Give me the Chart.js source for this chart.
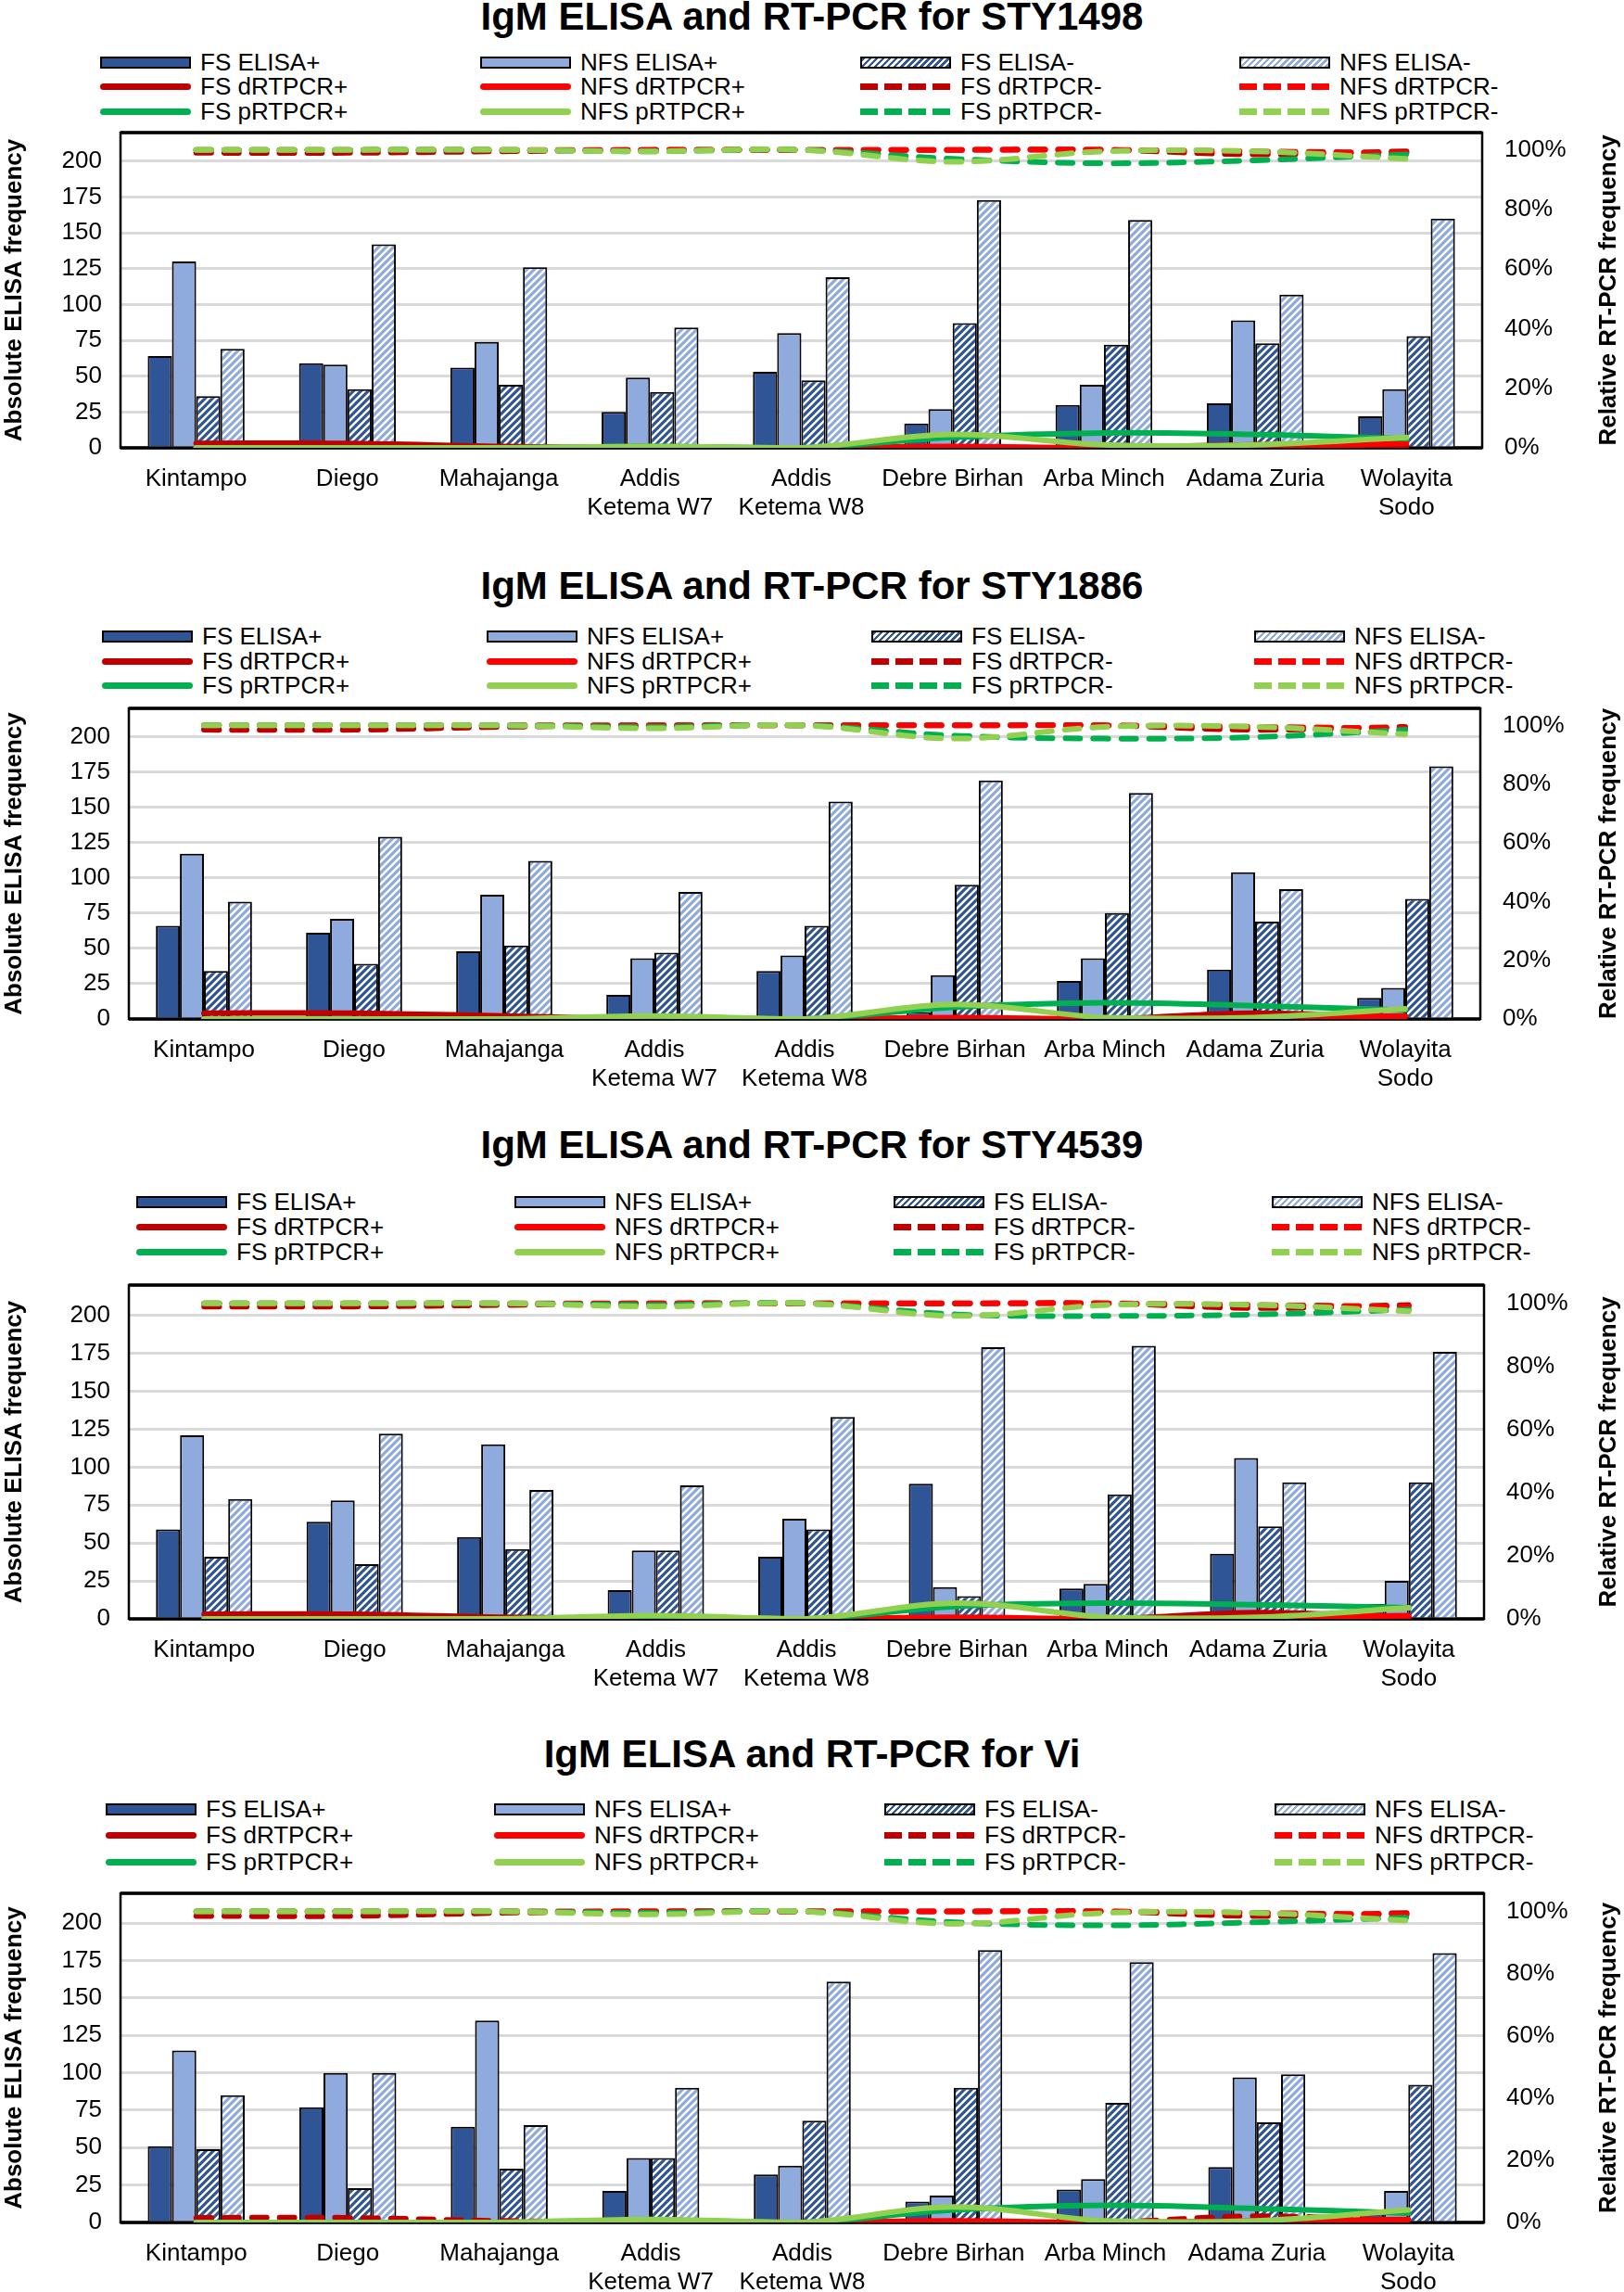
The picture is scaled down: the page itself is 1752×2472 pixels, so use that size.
<!DOCTYPE html>
<html>
<head>
<meta charset="utf-8">
<script src="https://cdn.jsdelivr.net/npm/chart.js@4.4.1/dist/chart.umd.min.js"></script>
<style>
body { margin: 0; width: 1752px; height: 2472px; background: #fff; position: relative; overflow: hidden;
       font-family: 'Liberation Sans', Arial, sans-serif; color: #000; }
.title { position: absolute; left: 0; width: 1752px; text-align: center; font-weight: bold; font-size: 42px; line-height: 46px; }
.leg { position: absolute; font-size: 26px; line-height: 28px; height: 28px; display: flex; align-items: center; white-space: nowrap; }
.sw { width: 98px; margin-right: 10px; box-sizing: border-box; flex: none; }
canvas { position: absolute; left: 0; }
</style>
</head>
<body>
<script>
// Sites on the x axis
const categories = ['Kintampo', 'Diego', 'Mahajanga', ['Addis', 'Ketema W7'], ['Addis', 'Ketema W8'],
    'Debre Birhan', 'Arba Minch', 'Adama Zuria', ['Wolayita', 'Sodo']];

const panelTitles = [
    'IgM ELISA and RT-PCR for STY1498',
    'IgM ELISA and RT-PCR for STY1886',
    'IgM ELISA and RT-PCR for STY4539',
    'IgM ELISA and RT-PCR for Vi'
];

const leftTicks = [0, 25, 50, 75, 100, 125, 150, 175, 200];
const rightTicks = [0, 20, 40, 60, 80, 100];

// ELISA counts, one row per panel (STY1498, STY1886, STY4539, Vi)
const fsElisaPos = [
    [64, 59, 56, 25, 53, 17, 30, 31, 22],
    [66, 61, 48, 17, 34, 5, 27, 35, 15],
    [59, 64, 54, 19, 41, 89, 20, 43, 10],
    [51, 77, 64, 21, 32, 14, 22, 37, 8]
];
const nfsElisaPos = [
    [130, 58, 74, 49, 80, 27, 44, 89, 41],
    [117, 71, 88, 43, 45, 31, 43, 104, 22],
    [121, 78, 115, 45, 66, 21, 23, 106, 25],
    [115, 100, 135, 43, 38, 18, 29, 97, 21]
];
const fsElisaNeg = [
    [36, 41, 44, 39, 47, 87, 72, 73, 78],
    [34, 39, 52, 47, 66, 95, 75, 69, 85],
    [41, 36, 46, 45, 59, 15, 82, 61, 90],
    [49, 23, 36, 43, 68, 90, 80, 67, 92]
];
const nfsElisaNeg = [
    [69, 142, 126, 84, 119, 173, 159, 107, 160],
    [83, 129, 112, 90, 154, 169, 160, 92, 179],
    [79, 122, 85, 88, 133, 179, 180, 90, 176],
    [85, 100, 65, 90, 161, 182, 174, 99, 180]
];

// RT-PCR relative frequencies (%)
const fsDPos = [
    [1.5, 1.5, 0.5, 0, 0, 0, 0, 1, 0.5],
    [2, 2, 1, 0, 0, 0, 0, 2, 0.5],
    [1.5, 1.5, 0.5, 0, 0, 0, 0, 2, 0.5],
    [1.5, 1.5, 0.5, 0, 0, 0, 0, 2, 0.5]
];
const nfsDPos = [
    [0, 0, 0, 0, 0, 0.5, 0, 0.5, 1.5],
    [0, 0, 0, 0, 0, 0.5, 0, 0.5, 1],
    [0, 0, 0, 0, 0, 0.5, 0, 0.5, 1],
    [0, 0, 0, 0, 0, 0.5, 0, 0.5, 1]
];
const fsDNeg = [
    [99, 99, 99.5, 100, 100, 100, 100, 98.5, 99.5],
    [98.5, 98.5, 99.5, 100, 100, 100, 100, 98.5, 99.5],
    [99, 99, 99.5, 100, 100, 100, 100, 98.5, 99.5],
    [98.5, 98.5, 99.5, 100, 100, 100, 100, 98.5, 99.5]
];
const nfsDNeg = [
    [100, 100, 100, 100, 100, 100, 100, 99.5, 99],
    [100, 100, 100, 100, 100, 100, 100, 99.5, 99],
    [100, 100, 100, 100, 100, 100, 100, 99.5, 99],
    [100, 100, 100, 100, 100, 100, 100, 99.5, 99]
];
const fsPPos = [
    [0, 0, 0, 0.5, 0, 3.5, 5, 4.5, 3],
    [0, 0, 0, 0.5, 0, 4, 5.5, 4.5, 3],
    [0, 0, 0, 0.5, 0, 4, 5, 4.5, 3.5],
    [0, 0, 0, 0.5, 0, 4, 5.5, 4.5, 3]
];
const nfsPPos = [
    [0, 0, 0, 0.5, 0, 4.5, 1, 1, 3.5],
    [0, 0, 0, 1, 0, 5, 0.5, 0.5, 3.5],
    [0, 0, 0, 1, 0, 5, 0.5, 0.5, 3.5],
    [0, 0, 0, 1, 0, 5, 0.5, 0.5, 4]
];
const fsPNeg = [
    [100, 100, 100, 99.5, 100, 97, 95.5, 96.5, 98.5],
    [100, 100, 100, 99.5, 100, 96.5, 95.5, 96, 98.5],
    [100, 100, 100, 99.5, 100, 96.5, 96, 96.5, 98],
    [100, 100, 100, 99.5, 100, 96.5, 95.5, 96.5, 98]
];
const nfsPNeg = [
    [100, 100, 100, 99.5, 100, 96, 99.5, 99.5, 97],
    [100, 100, 100, 99, 100, 95.5, 99.5, 99.5, 97],
    [100, 100, 100, 99, 100, 96, 99.5, 99.5, 97.5],
    [100, 100, 100, 99, 100, 96, 99.5, 99.5, 97]
];

// page layout of each panel (px)
const panels = [
    { titleY: 18, legX: [108, 518, 928, 1337], legY: [67, 93, 120], left: 130, right: 1599, top: 143, bottom: 483 },
    { titleY: 632, legX: [110, 525, 940, 1353], legY: [686, 713, 739], left: 139, right: 1597, top: 764, bottom: 1099 },
    { titleY: 1235, legX: [147, 555, 964, 1372], legY: [1296, 1323, 1350], left: 139, right: 1601, top: 1386, bottom: 1746 },
    { titleY: 1892, legX: [114, 533, 954, 1375], legY: [1951, 1979, 2008], left: 130, right: 1601, top: 2042, bottom: 2397, fsDPosDashed: true }
];

const DARK_BLUE = '#2F5597';
const LIGHT_BLUE = '#8FAADC';
const DARK_RED = '#C00000';
const RED = '#FF0000';
const GREEN = '#00B050';
const LIGHT_GREEN = '#92D050';

Chart.defaults.font.family = "'Liberation Sans', Arial, sans-serif";
Chart.defaults.color = '#000';

function hatch(color) {
    const c = document.createElement('canvas');
    c.width = 8; c.height = 8;
    const g = c.getContext('2d');
    g.fillStyle = '#fff';
    g.fillRect(0, 0, 8, 8);
    g.strokeStyle = color;
    g.lineWidth = 3.2;
    g.beginPath();
    g.moveTo(-2, 10); g.lineTo(10, -2);
    g.moveTo(-6, 6); g.lineTo(6, -6);
    g.moveTo(2, 14); g.lineTo(14, 2);
    g.stroke();
    return g.createPattern(c, 'repeat');
}

const plotFrame = {
    id: 'plotFrame',
    beforeDatasetsDraw(chart) {
        const { ctx, chartArea: a } = chart;
        ctx.save();
        ctx.strokeStyle = '#000';
        ctx.lineWidth = 2.5;
        ctx.strokeRect(a.left, a.top, a.right - a.left, a.bottom - a.top);
        ctx.lineWidth = 3.5;
        ctx.beginPath();
        ctx.moveTo(a.left, a.bottom);
        ctx.lineTo(a.right, a.bottom);
        ctx.moveTo(a.left, a.top);
        ctx.lineTo(a.right, a.top);
        ctx.stroke();
        ctx.restore();
    },
    afterDraw(chart) {
        // right axis title reads bottom-to-top like the left one
        const { ctx, chartArea: a, width } = chart;
        ctx.save();
        ctx.translate(width - 16, (a.top + a.bottom) / 2);
        ctx.rotate(-Math.PI / 2);
        ctx.font = "bold 26px 'Liberation Sans', Arial, sans-serif";
        ctx.fillStyle = '#000';
        ctx.textAlign = 'center';
        ctx.textBaseline = 'middle';
        ctx.fillText('Relative RT-PCR frequency', 0, 0);
        ctx.restore();
    }
};

function addLegend(p) {
    const items = [
        ['FS ELISA+', 'bar', DARK_BLUE], ['NFS ELISA+', 'bar', LIGHT_BLUE], ['FS ELISA-', 'hatch', DARK_BLUE], ['NFS ELISA-', 'hatch', LIGHT_BLUE],
        ['FS dRTPCR+', 'line', DARK_RED], ['NFS dRTPCR+', 'line', RED], ['FS dRTPCR-', 'dash', DARK_RED], ['NFS dRTPCR-', 'dash', RED],
        ['FS pRTPCR+', 'line', GREEN], ['NFS pRTPCR+', 'line', LIGHT_GREEN], ['FS pRTPCR-', 'dash', GREEN], ['NFS pRTPCR-', 'dash', LIGHT_GREEN]
    ];
    items.forEach((it, i) => {
        const row = Math.floor(i / 4), col = i % 4;
        const d = document.createElement('div');
        d.className = 'leg';
        d.style.left = p.legX[col] + 'px';
        d.style.top = (p.legY[row] - 14) + 'px';
        const sw = document.createElement('span');
        sw.className = 'sw';
        const [text, kind, color] = it;
        if (kind === 'bar') {
            sw.style.height = '13px';
            sw.style.border = '2px solid #000';
            sw.style.background = color;
        } else if (kind === 'hatch') {
            sw.style.height = '13px';
            sw.style.border = '2px solid #000';
            sw.style.background = `repeating-linear-gradient(135deg, ${color} 0 2.5px, #fff 2.5px 5px)`;
        } else if (kind === 'line') {
            sw.style.height = '7px';
            sw.style.borderRadius = '4px';
            sw.style.background = color;
        } else {
            sw.style.height = '7px';
            sw.style.background = `repeating-linear-gradient(90deg, ${color} 0 19px, transparent 19px 26px)`;
        }
        d.appendChild(sw);
        d.appendChild(document.createTextNode(text));
        document.body.appendChild(d);
    });
}

function lineSet(label, data, color, dashed, order) {
    return {
        type: 'line', label, data, yAxisID: 'y2', order,
        borderColor: color, backgroundColor: color, borderWidth: 6,
        borderDash: dashed ? [16, 14] : [], borderCapStyle: 'round', borderJoinStyle: 'round',
        pointRadius: 0, tension: 0.35, fill: false
    };
}

function noPad(s) {
    s.paddingTop = 0; s.paddingBottom = 0; s.paddingLeft = 0; s.paddingRight = 0;
}

panels.forEach((p, k) => {
    const t = document.createElement('div');
    t.className = 'title';
    t.style.top = (p.titleY - 23) + 'px';
    t.textContent = panelTitles[k];
    document.body.appendChild(t);
    addLegend(p);

    const padTop = 20, xAxisH = 85;
    const canvas = document.createElement('canvas');
    canvas.style.top = (p.top - padTop) + 'px';
    canvas.width = 1752;
    canvas.height = p.bottom - p.top + padTop + xAxisH;
    canvas.style.width = '1752px';
    canvas.style.height = canvas.height + 'px';
    document.body.appendChild(canvas);

    const barCommon = { order: 20, borderColor: '#000', borderWidth: 2, categoryPercentage: 0.64, barPercentage: 1.0, yAxisID: 'y' };

    new Chart(canvas, {
        type: 'bar',
        data: {
            labels: categories,
            datasets: [
                { ...barCommon, label: 'FS ELISA+', data: fsElisaPos[k], backgroundColor: DARK_BLUE },
                { ...barCommon, label: 'NFS ELISA+', data: nfsElisaPos[k], backgroundColor: LIGHT_BLUE },
                { ...barCommon, label: 'FS ELISA-', data: fsElisaNeg[k], backgroundColor: hatch(DARK_BLUE) },
                { ...barCommon, label: 'NFS ELISA-', data: nfsElisaNeg[k], backgroundColor: hatch(LIGHT_BLUE) },
                lineSet('FS dRTPCR+', fsDPos[k], DARK_RED, !!p.fsDPosDashed, 10),
                lineSet('NFS dRTPCR+', nfsDPos[k], RED, false, 9),
                lineSet('FS dRTPCR-', fsDNeg[k], DARK_RED, true, 8),
                lineSet('NFS dRTPCR-', nfsDNeg[k], RED, true, 7),
                lineSet('FS pRTPCR+', fsPPos[k], GREEN, false, 6),
                lineSet('NFS pRTPCR+', nfsPPos[k], LIGHT_GREEN, false, 5),
                lineSet('FS pRTPCR-', fsPNeg[k], GREEN, true, 4),
                lineSet('NFS pRTPCR-', nfsPNeg[k], LIGHT_GREEN, true, 3)
            ]
        },
        options: {
            responsive: false,
            animation: false,
            devicePixelRatio: 1,
            layout: { padding: { top: padTop, left: 0, right: 0, bottom: 0 } },
            plugins: { legend: { display: false }, title: { display: false }, tooltip: { enabled: false } },
            scales: {
                x: {
                    grid: { display: false },
                    border: { display: false },
                    ticks: { font: { size: 26 }, color: '#000', padding: 10, maxRotation: 0, autoSkip: false },
                    afterFit: s => { s.height = xAxisH; noPad(s); }
                },
                y: {
                    position: 'left', min: 0, max: 220,
                    afterBuildTicks: a => { a.ticks = leftTicks.map(v => ({ value: v })); },
                    afterFit: s => { s.width = p.left; noPad(s); },
                    grid: { color: '#D9D9D9', lineWidth: 3, drawTicks: false },
                    border: { display: false },
                    ticks: { font: { size: 26 }, color: '#000', padding: 20 },
                    title: { display: true, text: 'Absolute ELISA frequency', font: { size: 26, weight: 'bold' }, color: '#000', padding: 0 }
                },
                y2: {
                    position: 'right', min: 0, max: 105.8,
                    afterBuildTicks: a => { a.ticks = rightTicks.map(v => ({ value: v })); },
                    afterFit: s => { s.width = 1752 - p.right; noPad(s); },
                    grid: { display: false, drawTicks: false },
                    border: { display: false },
                    ticks: { font: { size: 26 }, color: '#000', padding: 24, callback: v => v + '%' }
                }
            }
        },
        plugins: [plotFrame]
    });
});
</script>
</body>
</html>
